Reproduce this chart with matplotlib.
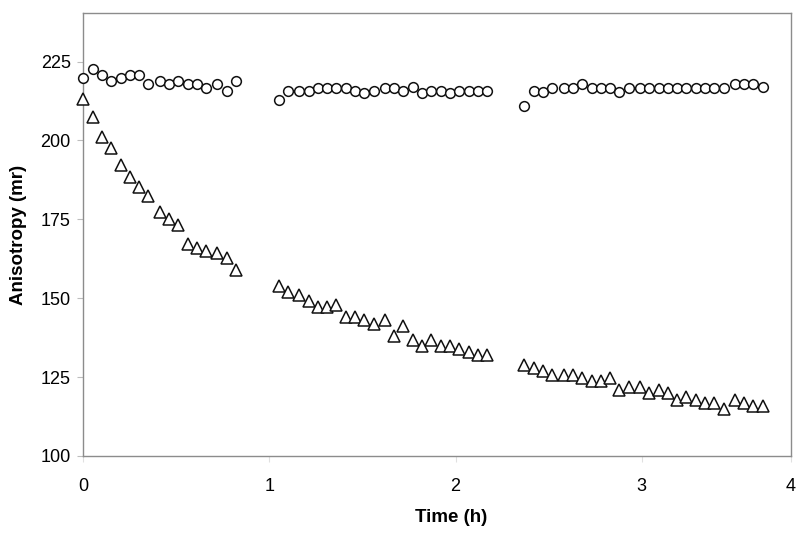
import matplotlib
matplotlib.use("Agg")
import matplotlib.pyplot as plt

plt.rcParams['font.family'] = ['Liberation Sans', 'DejaVu Sans']

# Time (h) for the three measurement segments
time_h = [0.00, 0.05, 0.10, 0.15, 0.20, 0.25, 0.30, 0.35, 0.41, 0.46, 0.51, 0.56, 0.61, 0.66, 0.72, 0.77, 0.82,
          1.05, 1.10, 1.16, 1.21, 1.26, 1.31, 1.36, 1.41, 1.46, 1.51, 1.56, 1.62, 1.67, 1.72, 1.77, 1.82,
          1.87, 1.92, 1.97, 2.02, 2.07, 2.12, 2.17,
          2.37, 2.42, 2.47, 2.52, 2.58, 2.63, 2.68, 2.73, 2.78, 2.83, 2.88, 2.93, 2.99, 3.04, 3.09, 3.14,
          3.19, 3.24, 3.29, 3.34, 3.39, 3.44, 3.50, 3.55, 3.60, 3.65]

# Circles (stable anisotropy)
circles = [219.7, 222.6, 220.8, 218.7, 219.7, 220.8, 220.8, 217.9, 218.7, 217.9, 218.7, 217.9, 217.9, 216.7, 217.9, 215.7, 218.7,
           212.8, 215.7, 215.7, 215.7, 216.5, 216.5, 216.5, 216.5, 215.7, 214.9, 215.7, 216.5, 216.5, 215.7, 216.8, 214.9,
           215.7, 215.7, 214.9, 215.7, 215.7, 215.7, 215.7,
           210.8, 215.7, 215.5, 216.5, 216.5, 216.5, 217.9, 216.5, 216.5, 216.5, 215.5, 216.5, 216.5, 216.5, 216.5, 216.5,
           216.5, 216.5, 216.5, 216.5, 216.5, 216.5, 217.9, 217.9, 217.9, 216.8]

# Triangles (decaying anisotropy)
triangles = [213.3, 207.3, 201.2, 197.5, 192.2, 188.4, 185.4, 182.4, 177.3, 175.2, 173.2, 167.3, 166.0, 164.9, 164.2, 162.8, 159.1,
             154.0, 152.0, 150.9, 149.0, 147.1, 147.1, 148.0, 144.1, 144.1, 143.0, 141.9, 143.0, 137.9, 141.1, 136.8, 134.9,
             136.8, 134.9, 134.9, 133.9, 132.8, 131.9, 131.9,
             128.7, 127.9, 126.8, 125.7, 125.7, 125.7, 124.7, 123.8, 123.8, 124.7, 121.0, 121.8, 121.8, 119.9, 121.0, 119.9,
             117.8, 118.8, 117.8, 116.7, 116.7, 114.8, 117.8, 116.7, 115.9, 115.9]

x_tick_pos = [0, 1, 2, 3, 3.8]
x_tick_labels = ["0", "1", "2", "3", "4"]
y_ticks = [100, 125, 150, 175, 200, 225]

fig = plt.figure(figsize=(8, 5.33), dpi=100)
ax = fig.add_axes([0.1041, 0.1445, 0.8843, 0.8317])

ax.plot(time_h, triangles, linestyle='none', marker='^', markersize=8,
        markerfacecolor='white', markeredgecolor='#111111', markeredgewidth=1.1,
        clip_on=False, zorder=3)
ax.plot(time_h, circles, linestyle='none', marker='o', markersize=7,
        markerfacecolor='white', markeredgecolor='#111111', markeredgewidth=1.1,
        clip_on=False, zorder=4)

ax.set_xlim(0, 3.8)
ax.set_ylim(100, 240.5)
ax.set_xticks(x_tick_pos)
ax.set_xticklabels(x_tick_labels)
ax.set_yticks(y_ticks)

for s in ax.spines.values():
    s.set_color('#8c8c8c')
    s.set_linewidth(1.0)

ax.tick_params(axis='y', direction='out', length=4, width=0.8, color='#bdbdbd',
               labelsize=13, pad=5, labelcolor='black')
ax.tick_params(axis='x', direction='out', length=4, width=0.8, color='#e0e0e0',
               labelsize=13, pad=12, labelcolor='black')

fig.text(451 / 800, 1 - 518 / 533, 'Time (h)', ha='center', va='center',
         fontsize=13.5, fontweight='bold')
fig.text(19 / 800, 1 - 235 / 533, 'Anisotropy (mr)', ha='center', va='center',
         rotation=90, fontsize=13.5, fontweight='bold')

fig.savefig('out.png', dpi=100)
